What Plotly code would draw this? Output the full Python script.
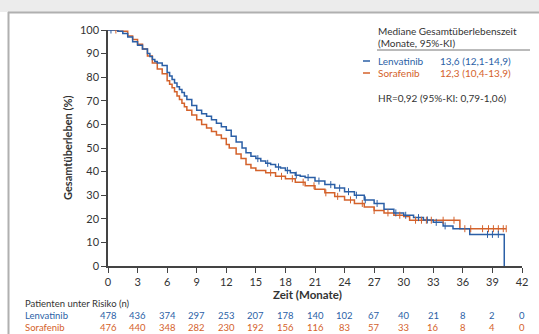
import numpy as np
import plotly.graph_objects as go

# ---- data ----
len_t = [0, 0.5, 1, 1.5, 2, 2.5, 3, 3.5, 4, 4.25, 4.5, 4.75, 5, 5.5, 6, 6.25, 6.5, 6.75, 7, 7.25, 7.5,
         7.75, 8, 8.5, 9, 9.5, 10, 10.5, 11, 11.5, 12, 12.5, 13, 13.6, 14, 14.5, 15, 15.5, 16, 16.5,
         17, 17.5, 18, 18.5, 19, 19.5, 20, 21, 22, 23, 24, 25, 26, 27, 28, 29, 30, 31, 32, 33, 34,
         35, 36, 36.7, 40.2, 40.2]
len_s = [100, 100, 99.5, 98.5, 97, 95, 93.5, 92, 90, 88.8, 87.5, 86.6, 86, 85, 82, 80.5, 79, 77.5, 76, 74.8,
         73.5, 72, 70.5, 68, 66, 64.5, 63.5, 62, 60.5, 59, 57.5, 55, 52.5, 50, 48, 46.5, 45.5, 44.5, 43.5, 43,
         42, 41.5, 40.5, 39.5, 38.5, 38, 37.5, 36, 34.5, 33, 31.5, 30, 28, 26.5, 24, 22.5, 21.5, 20.5, 19.5,
         18.5, 17, 15.8, 15.8, 13.4, 13.4, 0]
sor_t = [0, 1, 2, 2.5, 3, 3.5, 4, 4.5, 5, 5.5, 6, 6.25, 6.5, 6.75, 7, 7.25, 7.5, 7.75, 8, 8.5, 9, 9.5,
         10, 10.5, 11, 11.5, 12, 12.3, 13, 13.5, 14, 14.5, 15, 16, 17, 18, 19, 20, 21, 22, 23, 24, 25,
         26, 27, 28, 29, 30, 30.6, 33, 35.7, 40.4]
sor_s = [100, 99.5, 97.5, 96, 94, 92, 89, 86, 83.5, 81.5, 78.5, 77, 75.5, 73.8, 72, 70.5, 69, 67.5, 66,
         64, 62, 60, 58.5, 57, 55.5, 54, 51.5, 50, 47.5, 45.5, 43, 41.5, 40.5, 39.5, 38, 37, 35.5, 34,
         32.5, 31, 29.5, 28, 26.5, 25, 23.5, 22.5, 21.5, 21, 19.4, 19.4, 15.8, 15.8]
len_cens = [0.3, 15.2, 16.2, 17.3, 18.2, 19.1, 20.3, 21.4, 22.6, 23.5, 24.4, 25.2, 26.1, 27.3,
            29.2, 30.2, 31.5, 32.4, 33.3, 34.2, 38.5, 39.0, 39.6]
sor_cens = [0.8, 16.5, 17.6, 18.7, 19.8, 20.9, 22.1, 23.3, 24.6, 25.8, 27.0, 28.4, 29.6,
            31.2, 31.8, 32.3, 32.8, 34.0, 35.1, 36.2, 36.8, 38.0, 38.6, 39.1, 39.6, 40.1, 40.4]
risk_times = list(range(0, 43, 3))
risk_len = [478, 436, 374, 297, 253, 207, 178, 140, 102, 67, 40, 21, 8, 2, 0]
risk_sor = [476, 440, 348, 282, 230, 192, 156, 116, 83, 57, 33, 16, 8, 4, 0]

BLUE = "#2b5fa6"
ORANGE = "#d4622b"
TXT = "#333333"
FONT = "Lato"

W, H = 539, 334
L, R, T, B = 108, 522, 30, 266


def px(x):
    return (x - L) / (R - L)


def py(y):
    return (B - y) / (B - T)


def step_at(ts, ss, q):
    idx = np.searchsorted(np.array(ts), q, side="right") - 1
    return [ss[max(i, 0)] for i in idx]


fig = go.Figure()
fig.add_trace(go.Scatter(x=sor_t, y=sor_s, mode="lines", line=dict(color=ORANGE, width=1.5, shape="hv"),
                         showlegend=False, hoverinfo="skip"))
fig.add_trace(go.Scatter(x=len_t, y=len_s, mode="lines", line=dict(color=BLUE, width=1.5, shape="hv"),
                         showlegend=False, hoverinfo="skip"))
fig.add_trace(go.Scatter(x=sor_cens, y=step_at(sor_t, sor_s, sor_cens), mode="markers",
                         marker=dict(symbol="line-ns", size=5, line=dict(color=ORANGE, width=1)),
                         showlegend=False, hoverinfo="skip"))
fig.add_trace(go.Scatter(x=len_cens, y=step_at(len_t, len_s, len_cens), mode="markers",
                         marker=dict(symbol="line-ns", size=5, line=dict(color=BLUE, width=1)),
                         showlegend=False, hoverinfo="skip"))

axis_common = dict(showgrid=False, zeroline=False, showline=True, linecolor="#444444", linewidth=1.5,
                   ticks="outside", ticklen=5, tickcolor="#444444", tickwidth=1.2,
                   tickfont=dict(family=FONT, size=11, color=TXT))
fig.update_xaxes(range=[0, 42], tickmode="array", tickvals=risk_times, **axis_common)
fig.update_yaxes(range=[0, 100], tickmode="array", tickvals=list(range(0, 101, 10)), **axis_common)

shapes = [
    dict(type="rect", xref="paper", yref="paper", x0=px(0), x1=px(W), y0=py(12), y1=py(0),
         fillcolor="#ececec", line=dict(width=0), layer="below"),
    dict(type="line", xref="paper", yref="paper", x0=px(8), x1=px(W), y0=py(12.5), y1=py(12.5),
         line=dict(color="#b0b0b0", width=2)),
    dict(type="line", xref="paper", yref="paper", x0=px(8.5), x1=px(8.5), y0=py(12), y1=py(H),
         line=dict(color="#b0b0b0", width=2)),
    dict(type="line", xref="paper", yref="paper", x0=px(377), x1=px(530), y0=py(50), y1=py(50),
         line=dict(color="#777777", width=1)),
    dict(type="line", xref="paper", yref="paper", x0=px(363), x1=px(370), y0=py(61), y1=py(61),
         line=dict(color=BLUE, width=1.5)),
    dict(type="line", xref="paper", yref="paper", x0=px(363), x1=px(370), y0=py(73), y1=py(73),
         line=dict(color=ORANGE, width=1.5)),
]

ann = []


def text(x, y, s, color=TXT, size=10, xanchor="left", bold=False, xref="paper", angle=0):
    ann.append(dict(x=x, y=y, xref=xref, yref="paper", text=("<b>%s</b>" % s) if bold else s,
                    showarrow=False, xanchor=xanchor, yanchor="middle", textangle=angle, borderpad=0,
                    font=dict(family=FONT, size=size, color=color)))


text(px(377), py(31), "Mediane Gesamtüberlebenszeit")
text(px(377), py(43), "(Monate, 95%-KI)")
text(px(377), py(61), "Lenvatinib", BLUE)
text(px(439), py(61), "13,6 (12,1-14,9)", BLUE)
text(px(377), py(73), "Sorafenib", ORANGE)
text(px(439), py(73), "12,3 (10,4-13,9)", ORANGE)
text(px(377), py(98), "HR=0,92 (95%-KI: 0,79-1,06)")
text(px(67), py(148), "Gesamtüberleben (%)", size=11, xanchor="center", bold=True, angle=-90)
text(px(307), py(294), "Zeit (Monate)", size=11.5, xanchor="center", bold=True)
text(px(24), py(303), "Patienten unter Risiko (n)", size=9.5)
text(px(24), py(315.6), "Lenvatinib", BLUE, size=9.5)
text(px(24), py(327.8), "Sorafenib", ORANGE, size=9.5)
for t, a, b in zip(risk_times, risk_len, risk_sor):
    text(t, py(315.6), str(a), BLUE, size=9.5, xanchor="center", xref="x")
    text(t, py(327.8), str(b), ORANGE, size=9.5, xanchor="center", xref="x")

fig.update_layout(width=W, height=H, margin=dict(l=L, r=W - R, t=T, b=H - B),
                  paper_bgcolor="white", plot_bgcolor="white", shapes=shapes, annotations=ann,
                  showlegend=False)
fig.write_html("out.html", config={"displayModeBar": False},
               post_script="document.body.style.margin='0';document.body.style.overflow='hidden';")
